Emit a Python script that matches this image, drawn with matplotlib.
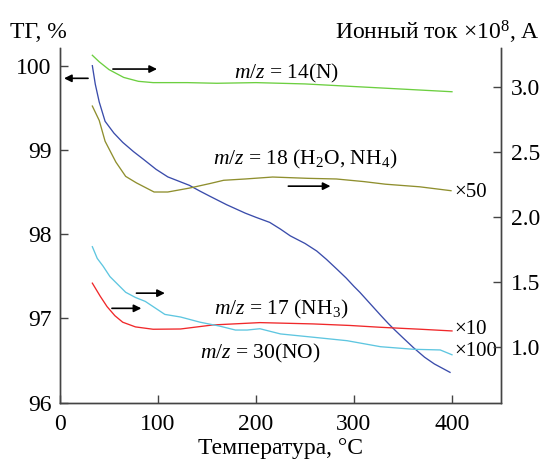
import matplotlib.pyplot as plt

plt.rcParams["font.family"] = ["Liberation Serif", "DejaVu Serif"]
plt.rcParams["mathtext.fontset"] = "custom"
plt.rcParams["mathtext.rm"] = "Liberation Serif"
plt.rcParams["mathtext.it"] = "Liberation Serif:italic"

# TG curve (left axis)
tg_temp = [33, 36, 40, 46, 55, 64, 75, 85, 98, 110, 121, 132, 143, 153, 170,
           189, 200, 214, 225, 235, 250, 262, 272, 283, 292, 300, 306, 313,
           320, 327, 335, 341, 350, 361, 372, 382, 390, 398]
tg_val = [100.0, 99.78, 99.57, 99.34, 99.2, 99.09, 98.98, 98.89, 98.77,
          98.68, 98.63, 98.58, 98.51, 98.45, 98.35, 98.25, 98.2, 98.14,
          98.06, 97.98, 97.89, 97.80, 97.70, 97.58, 97.48, 97.38, 97.31,
          97.22, 97.13, 97.04, 96.94, 96.87, 96.77, 96.65, 96.54, 96.46,
          96.41, 96.36]

# ion currents (right axis)
n14_temp = [33, 40, 50, 65, 80, 95, 130, 160, 200, 250, 300, 350, 400]
n14_val = [3.24, 3.19, 3.13, 3.07, 3.04, 3.03, 3.03, 3.025, 3.03, 3.02, 3.0,
           2.98, 2.96]

h2o_temp = [33, 40, 46, 57, 67, 78, 96, 110, 132, 153, 167, 189, 217, 253,
            282, 310, 332, 367, 399]
h2o_val = [2.85, 2.74, 2.58, 2.42, 2.31, 2.26, 2.19, 2.19, 2.22, 2.255, 2.28,
           2.29, 2.305, 2.295, 2.29, 2.27, 2.25, 2.23, 2.20]

nh3_temp = [33, 41, 48, 56, 64, 77, 95, 123, 156, 204, 258, 296, 327, 368, 400]
nh3_val = [1.49, 1.39, 1.31, 1.24, 1.19, 1.154, 1.136, 1.138, 1.169, 1.187,
           1.177, 1.165, 1.151, 1.136, 1.123]

no_temp = [33, 38, 44, 51, 59, 67, 77, 87, 97, 107, 123, 143, 163, 179, 191,
           204, 225, 258, 293, 327, 361, 388, 400]
no_val = [1.77, 1.68, 1.62, 1.54, 1.48, 1.42, 1.38, 1.35, 1.30, 1.25, 1.23,
          1.19, 1.16, 1.13, 1.13, 1.14, 1.10, 1.075, 1.048, 1.002, 0.982,
          0.977, 0.94]

fig = plt.figure(figsize=(5.48, 4.65), dpi=100)
ax = fig.add_axes([0.1095, 0.134, 0.8047, 0.7628])
ax2 = ax.twinx()

ax.plot(tg_temp, tg_val, color="#3a4cab", lw=0.95)
ax2.plot(n14_temp, n14_val, color="#6ccf40", lw=0.95)
ax2.plot(h2o_temp, h2o_val, color="#8f8f2e", lw=0.95)
ax2.plot(nh3_temp, nh3_val, color="#f0282a", lw=0.95)
ax2.plot(no_temp, no_val, color="#5ec6e0", lw=0.95)

ax.set_xlim(0, 450)
ax.set_ylim(96, 100.21)
ax2.set_ylim(0.572, 3.296)
ax.set_xticks([0, 100, 200, 300, 400])
ax.set_yticks([96, 97, 98, 99, 100])
ax2.set_yticks([1.0, 1.5, 2.0, 2.5, 3.0])
ax2.set_yticklabels(["1.0", "1.5", "2.0", "2.5", "3.0"])

for a in (ax, ax2):
    a.spines["top"].set_visible(False)
    for s in a.spines.values():
        s.set_color("#444444")
        s.set_linewidth(1.0)
ax.tick_params(direction="in", length=6, width=1.0, color="#444444",
               labelsize=17, pad=6)
ax.tick_params(axis="x", pad=8)
ax2.tick_params(direction="in", length=6, width=1.0, color="#444444",
                labelsize=17, pad=7)

ax.set_xlabel("Температура, °С", fontsize=17, labelpad=2)
fig.text(0.018, 0.93, "ТГ, %", fontsize=17, va="center")
fig.text(0.985, 0.93, "Ионный ток ×$10^{8}$, А", fontsize=17,
         va="center", ha="right")

fs = 15.5
ax.text(231, 99.91, "$m/z$ = 14(N)", fontsize=fs, ha="center", va="center")
ax.text(250, 98.89, "$m/z$ = 18 (H$_2$O, NH$_4$)", fontsize=fs,
        ha="center", va="center")
ax.text(226, 97.11, "$m/z$ = 17 (NH$_3$)", fontsize=fs,
        ha="center", va="center")
ax.text(204, 96.58, "$m/z$ = 30(NO)", fontsize=fs, ha="center", va="center")
ax.text(402, 98.50, "×50", fontsize=15, ha="left", va="center")
ax.text(402, 96.87, "×10", fontsize=15, ha="left", va="center")
ax.text(402, 96.61, "×100", fontsize=15, ha="left", va="center")

arrow = dict(arrowstyle="-|>", color="black", lw=1.2,
             mutation_scale=11, shrinkA=0, shrinkB=0)
for x0, x1, y in [(28.6, 4.1, 99.85), (54, 99, 99.96), (233, 276, 98.57),
                  (53, 83, 97.12), (78, 107, 97.30)]:
    ax.annotate("", xy=(x1, y), xytext=(x0, y), arrowprops=arrow)

fig.savefig("out.png", dpi=100)
